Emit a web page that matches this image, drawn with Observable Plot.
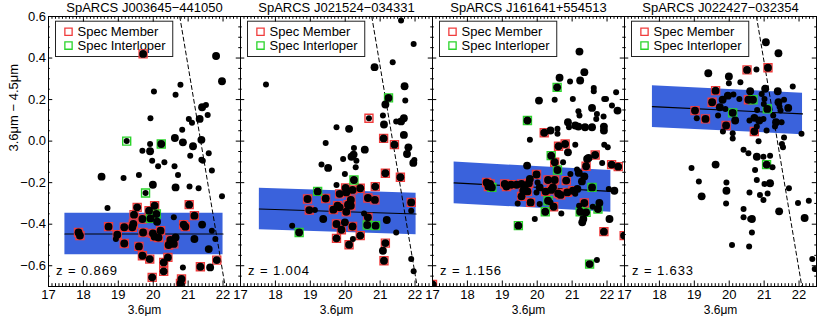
<!DOCTYPE html>
<html><head><meta charset="utf-8">
<script src="https://cdn.jsdelivr.net/npm/d3@7"></script>
<script src="https://cdn.jsdelivr.net/npm/@observablehq/plot@0.6"></script>
<style>body{margin:0;background:#fff;} #chart{width:830px;height:316px;}</style>
</head><body><div id="chart"></div>
<script>
// ---------- data ----------
const clusters = ["SpARCS J003645−441050", "SpARCS J021524−034331", "SpARCS J161641+554513", "SpARCS J022427−032354"];
const redshifts = ["0.869", "1.004", "1.156", "1.633"];
// red-sequence fit band
const bandStart = [17.47, 17.54, 17.62, 17.80];
const bandEnd   = [22.00, 22.03, 22.11, 22.10];
const fitStart  = [-0.447, -0.327, -0.201, 0.166];
const fitEnd    = [-0.447, -0.351, -0.242, 0.131];
const bandHalfWidth = [0.1, 0.1, 0.1, 0.1];
// 4.5um limit: colour = limitC - mag (null = outside plot)
const limitC = [21.36, 21.36, null, 21.38];
// tick labels
const xMajorTicks = [17, 18, 19, 20, 21, 22];
const yMajorTicks = [-0.6, -0.4, -0.2, 0.0, 0.2, 0.4, 0.6];
const legendLabels = ["Spec Member", "Spec Interloper"];

// points: [3.6um mag, colour, big(1)/small(0), spec: 0 none, 1 member, 2 interloper]
const pointsJ0036 = [
[19.71,0.42,1,1],[21.80,0.41,1,0],[21.97,0.288,1,0],[20.02,0.239,0,0],[20.78,0.271,0,0],[20.64,0.223,0,0],
[21.40,0.163,1,0],[21.51,0.174,0,0],[19.92,0.11,0,0],[21.02,0.107,0,0],[21.11,0.088,0,0],[21.33,0.107,1,0],
[21.56,0.126,0,0],[20.83,0.055,0,0],[19.24,0.0,0,2],[20.62,0.015,1,0],[20.85,-0.006,1,0],[21.38,0.006,1,0],
[21.14,-0.025,1,0],[20.23,-0.014,1,2],[19.91,-0.049,1,0],[19.69,-0.046,0,0],[19.91,-0.014,0,0],[21.06,-0.07,0,0],
[21.59,-0.059,0,0],[21.38,-0.09,0,0],[21.42,-0.094,0,0],[19.97,-0.094,0,0],[20.14,-0.121,0,0],[20.32,-0.102,0,0],
[20.61,-0.121,0,0],[21.68,-0.142,0,0],[18.52,-0.171,1,0],[19.15,-0.177,0,0],[19.59,-0.163,0,0],[20.71,-0.163,0,0],
[19.99,-0.21,1,0],[20.64,-0.223,1,0],[21.04,-0.218,0,0],[21.30,-0.227,0,0],[21.97,-0.266,0,0],[19.78,-0.25,0,2],
[18.69,-0.322,0,0],[19.54,-0.319,1,1],[20.04,-0.311,1,1],[21.03,-0.306,1,1],[21.18,-0.359,1,1],[19.45,-0.354,1,1],
[19.88,-0.335,1,1],[20.09,-0.351,1,2],[19.92,-0.372,1,2],[19.69,-0.375,1,1],[19.43,-0.399,1,1],[19.40,-0.415,1,1],
[19.17,-0.415,1,1],[18.72,-0.412,1,1],[20.11,-0.388,1,0],[20.59,-0.367,0,0],[20.87,-0.402,1,1],[20.92,-0.412,1,1],
[21.40,-0.402,1,0],[17.86,-0.44,1,1],[17.90,-0.455,1,1],[18.97,-0.451,1,1],[19.17,-0.493,1,1],[18.93,-0.471,0,0],
[19.71,-0.44,1,1],[19.99,-0.444,1,1],[20.04,-0.46,1,1],[20.15,-0.464,1,1],[20.21,-0.431,1,1],[20.49,-0.476,1,1],
[20.44,-0.50,1,1],[20.59,-0.495,1,1],[20.64,-0.464,1,0],[21.18,-0.471,1,0],[21.78,-0.471,0,0],[21.68,-0.431,0,0],
[21.59,-0.52,1,0],[19.59,-0.507,1,1],[19.69,-0.552,1,1],[19.90,-0.568,1,1],[20.42,-0.56,1,1],[20.30,-0.584,1,1],
[20.30,-0.627,1,1],[21.35,-0.605,1,1],[21.63,-0.608,1,0],[21.82,-0.573,1,1],[20.85,-0.608,0,0],[19.97,-0.656,1,1],
[20.81,-0.664,1,1],[20.78,-0.685,1,1]
];
const pointsJ0215 = [
[21.60,0.581,0,0],[21.96,0.468,0,0],[21.36,0.38,0,0],[20.84,0.356,1,0],[17.73,0.272,0,0],[21.70,0.264,1,0],
[21.24,0.208,1,2],[21.72,0.195,0,0],[21.15,0.176,1,0],[20.68,0.11,0,1],[21.08,0.123,0,0],[21.68,0.11,1,0],
[21.60,0.095,1,0],[21.46,0.095,0,0],[21.11,0.08,1,0],[19.75,0.067,0,0],[20.11,0.059,1,0],[21.68,0.03,1,0],
[21.10,0.013,1,1],[21.41,-0.017,1,1],[19.44,-0.009,0,0],[21.81,-0.03,1,0],[20.56,-0.041,1,0],[20.25,-0.033,0,0],
[20.24,-0.065,1,0],[20.18,-0.075,1,0],[19.94,-0.086,0,0],[21.98,-0.091,0,0],[21.77,-0.062,1,0],[21.95,-0.105,1,0],
[19.32,-0.113,0,0],[19.51,-0.129,1,0],[20.32,-0.094,0,0],[20.30,-0.126,0,0],[19.99,-0.158,0,0],[21.15,-0.155,1,1],
[21.58,-0.174,1,1],[20.25,-0.187,1,2],[19.75,-0.211,0,0],[20.01,-0.226,1,1],[20.21,-0.235,1,1],[20.43,-0.227,1,1],
[20.86,-0.219,1,1],[19.21,-0.242,1,2],[19.84,-0.254,1,1],[20.03,-0.247,1,1],[18.92,-0.279,1,1],[19.44,-0.276,1,1],
[20.16,-0.283,1,1],[20.65,-0.274,1,1],[20.85,-0.283,1,1],[21.89,-0.295,1,1],[19.78,-0.311,1,1],[19.84,-0.319,1,1],
[20.08,-0.306,1,1],[20.16,-0.311,1,1],[18.97,-0.332,1,1],[19.13,-0.332,0,0],[19.66,-0.33,1,1],[20.03,-0.34,1,1],
[20.54,-0.348,0,0],[21.89,-0.335,0,0],[19.37,-0.375,1,0],[20.65,-0.367,1,1],[21.19,-0.38,1,0],[19.75,-0.399,1,1],
[19.99,-0.391,1,0],[20.21,-0.411,1,1],[20.63,-0.404,1,2],[20.87,-0.407,1,2],[18.48,-0.407,0,0],[18.68,-0.44,1,2],
[19.89,-0.427,1,1],[21.46,-0.44,0,0],[20.43,-0.455,1,1],[20.22,-0.471,0,0],[19.75,-0.468,1,1],[21.15,-0.491,1,1],
[20.11,-0.499,1,1],[21.08,-0.528,1,0],[21.11,-0.576,1,1],[21.89,-0.568,0,0],[21.96,-0.627,0,0]
];
const pointsJ1616 = [
[21.21,0.431,1,0],[21.35,0.332,1,0],[20.64,0.305,1,0],[20.94,0.287,0,0],[21.23,0.292,1,0],[20.57,0.259,1,2],
[21.62,0.256,0,0],[21.62,0.24,0,0],[22.26,0.235,0,0],[20.05,0.195,1,0],[20.50,0.199,0,0],[21.02,0.203,0,0],
[21.92,0.203,0,0],[21.97,0.203,0,0],[21.57,0.16,1,0],[22.14,0.171,0,0],[22.30,0.147,1,0],[21.18,0.144,0,0],
[21.21,0.123,0,0],[21.71,0.131,0,0],[21.69,0.107,0,0],[21.90,0.118,0,0],[19.72,0.099,1,2],[20.88,0.091,1,0],
[21.09,0.075,1,0],[21.18,0.07,1,0],[21.37,0.067,1,0],[21.57,0.067,1,0],[20.91,0.067,0,0],[21.91,0.07,1,0],
[21.91,0.051,1,0],[20.38,0.051,1,0],[20.58,0.059,0,0],[20.58,0.035,0,0],[20.20,0.04,1,1],[19.79,0.006,0,0],
[20.80,-0.014,1,1],[20.61,-0.025,1,1],[21.09,-0.018,0,0],[21.92,-0.017,0,0],[22.02,-0.03,0,0],[20.40,-0.07,1,2],
[21.66,-0.067,1,1],[21.47,-0.081,1,0],[20.88,-0.054,1,0],[20.50,-0.102,1,1],[21.43,-0.086,1,0],[20.74,-0.102,0,0],
[21.86,-0.105,0,0],[22.13,-0.113,1,1],[22.32,-0.123,1,1],[21.40,-0.121,1,1],[19.71,-0.118,1,0],[20.58,-0.139,1,2],
[21.14,-0.137,0,0],[21.19,-0.153,1,0],[20.95,-0.158,0,0],[21.35,-0.17,1,0],[19.98,-0.161,1,1],[19.79,-0.182,1,0],
[20.50,-0.187,1,1],[20.83,-0.19,1,1],[20.31,-0.187,1,1],[20.01,-0.199,0,0],[21.28,-0.194,1,0],[18.55,-0.199,1,1],
[18.65,-0.206,1,1],[18.60,-0.219,1,1],[18.70,-0.223,1,2],[19.07,-0.206,1,1],[19.25,-0.21,1,1],[19.41,-0.21,1,0],
[19.12,-0.219,1,1],[19.55,-0.206,1,1],[19.76,-0.203,1,1],[19.64,-0.223,1,1],[19.60,-0.239,1,1],[19.72,-0.242,1,1],
[19.55,-0.266,1,1],[19.44,-0.3,0,0],[19.81,-0.295,1,1],[20.07,-0.223,1,0],[19.98,-0.247,0,0],[20.24,-0.243,1,1],
[20.40,-0.235,1,1],[20.45,-0.223,1,1],[20.60,-0.252,1,1],[20.67,-0.259,1,1],[20.86,-0.247,1,1],[21.02,-0.239,1,1],
[21.15,-0.23,1,0],[21.57,-0.223,1,2],[22.05,-0.23,0,0],[22.21,-0.239,1,0],[21.09,-0.254,0,0],[20.31,-0.287,1,2],
[20.38,-0.295,0,0],[20.07,-0.303,0,0],[20.47,-0.316,1,1],[21.35,-0.298,1,1],[21.20,-0.311,0,0],[21.59,-0.316,0,0],
[21.78,-0.298,1,0],[21.74,-0.327,1,2],[20.23,-0.34,1,2],[20.69,-0.348,0,0],[21.23,-0.34,1,2],[21.40,-0.343,1,2],
[21.32,-0.375,1,0],[21.29,-0.391,1,0],[22.07,-0.375,1,0],[19.93,-0.375,0,0],[19.46,-0.407,1,2],[21.91,-0.436,1,1],
[22.49,-0.455,1,1],[21.71,-0.573,0,0],[21.50,-0.592,1,2],[17.00,-0.69,1,1]
];
const pointsJ0224 = [
[21.05,0.476,1,0],[21.41,0.423,1,0],[20.51,0.343,1,1],[20.78,0.345,0,0],[21.11,0.353,1,1],[19.40,0.327,1,0],
[19.99,0.311,1,0],[20.32,0.283,0,0],[19.99,0.279,0,0],[21.82,0.263,0,0],[19.61,0.243,1,1],[20.60,0.24,1,0],
[21.03,0.252,1,0],[21.39,0.24,1,0],[20.12,0.224,0,0],[19.96,0.219,1,0],[20.93,0.227,0,0],[19.81,0.199,1,0],
[20.55,0.199,1,1],[20.68,0.199,1,2],[20.29,0.203,0,0],[21.01,0.203,0,0],[21.41,0.187,1,0],[21.57,0.199,0,0],
[19.51,0.187,1,1],[20.99,0.179,0,0],[21.44,0.166,0,0],[21.69,0.16,1,0],[19.73,0.163,1,0],[19.89,0.155,0,0],
[19.02,0.147,1,1],[20.10,0.136,1,2],[21.09,0.155,1,2],[20.80,0.15,0,0],[21.47,0.147,0,0],[21.26,0.123,0,0],
[19.07,0.11,0,0],[19.32,0.107,1,1],[19.68,0.123,0,0],[20.17,0.099,1,0],[20.58,0.099,0,0],[20.72,0.112,1,0],
[20.98,0.107,0,0],[20.86,0.099,1,0],[21.34,0.091,1,0],[21.50,0.091,0,0],[19.91,0.075,1,1],[20.79,0.07,0,0],
[21.31,0.07,0,0],[21.07,0.051,0,0],[19.82,0.046,0,0],[20.10,0.038,0,0],[20.72,0.046,1,1],[22.07,0.035,0,0],
[21.57,0.018,0,0],[20.10,0.013,0,0],[20.84,-0.001,0,0],[21.51,-0.014,0,0],[21.54,-0.03,0,0],[20.41,-0.041,0,0],
[20.55,-0.059,0,0],[20.79,-0.075,1,0],[20.98,-0.075,0,0],[21.17,-0.07,0,0],[21.07,-0.113,1,2],[21.24,-0.126,0,0],
[18.92,-0.129,0,0],[19.61,-0.113,1,0],[20.74,-0.139,0,0],[20.79,-0.187,0,0],[19.13,-0.194,0,0],[19.92,-0.199,0,0],
[21.01,-0.206,0,0],[21.17,-0.203,1,0],[21.71,-0.227,0,0],[19.92,-0.239,1,0],[20.58,-0.247,0,0],[21.10,-0.252,0,0],
[20.88,-0.259,0,0],[19.21,-0.266,1,0],[20.98,-0.283,0,0],[19.91,-0.3,0,0],[21.97,-0.298,0,0],[22.28,-0.287,0,0],
[20.41,-0.327,0,0],[21.43,-0.338,1,0],[20.41,-0.367,0,0],[20.65,-0.375,1,0],[20.60,-0.375,0,0],[22.16,-0.37,1,0],
[20.65,-0.44,0,0],[20.08,-0.50,0,0],[20.57,-0.507,0,0],[22.38,-0.568,0,0],[22.45,-0.616,0,0]
];

// ---------- tables ----------
const pointSets = [pointsJ0036, pointsJ0215, pointsJ1616, pointsJ0224];
const points = pointSets.flatMap((arr, i) => arr.map(([mag, col, big, spec]) => ({cluster: clusters[i], mag, col, big, spec})));
const bandRows = clusters.flatMap((c, i) => [
  {cluster: c, mag: bandStart[i], fit: fitStart[i], lo: fitStart[i] - bandHalfWidth[i], hi: fitStart[i] + bandHalfWidth[i]},
  {cluster: c, mag: bandEnd[i], fit: fitEnd[i], lo: fitEnd[i] - bandHalfWidth[i], hi: fitEnd[i] + bandHalfWidth[i]}
]);
const yTop = 0.6, yBottom = -0.7;
const limitRows = clusters.flatMap((c, i) => limitC[i] == null ? [] : [
  {cluster: c, mag: limitC[i] - yTop, col: yTop},
  {cluster: c, mag: limitC[i] - yBottom, col: yBottom}
]);
const panelInfo = clusters.map((c, i) => ({cluster: c, z: redshifts[i]}));

const xMinorTicks = d3.range(171, 225).filter(d => d % 10 !== 0).map(d => d / 10);
const yMinorTicks = d3.range(-13, 12).filter(d => d % 4 !== 0).map(d => d * 0.05);

// ---------- layout / style ----------
const W = 830, H = 316, ML = 46, MR = 13, MT = 16, MB = 30;
const FW = (W - ML - MR) / 4, FH = H - MT - MB;
const RED = "#f03c3c", GREEN = "#2bd42b", BLUE = "#3a62dc";
const FS = 13;

const tickMarks = [
  Plot.tickX(xMajorTicks, {x: d => d, insetTop: FH - 5.5, stroke: "black"}),
  Plot.tickX(xMajorTicks, {x: d => d, insetBottom: FH - 5.5, stroke: "black"}),
  Plot.tickX(xMinorTicks, {x: d => d, insetTop: FH - 2.8, stroke: "black"}),
  Plot.tickX(xMinorTicks, {x: d => d, insetBottom: FH - 2.8, stroke: "black"}),
  Plot.tickY(yMajorTicks, {y: d => d, insetRight: FW - 5, stroke: "black"}),
  Plot.tickY(yMajorTicks, {y: d => d, insetLeft: FW - 5, stroke: "black"}),
  Plot.tickY(yMinorTicks, {y: d => d, insetRight: FW - 2.5, stroke: "black"}),
  Plot.tickY(yMinorTicks, {y: d => d, insetLeft: FW - 2.5, stroke: "black"})
];

const legendMarks = legendLabels.flatMap((lab, i) => [
  Plot.dot(clusters, {fx: d => d, x: null, y: null, frameAnchor: "top-left", dx: 20, dy: 15.3 + 13.8 * i,
    symbol: "square", r: 4.1, stroke: i === 0 ? RED : GREEN, strokeWidth: 1.3, fill: "white"}),
  Plot.text(clusters, {fx: d => d, x: null, y: null, frameAnchor: "top-left", dx: 29, dy: 15.8 + 13.8 * i,
    text: () => lab, textAnchor: "start", lineAnchor: "middle", fontSize: FS, fill: "black"})
]);

const chart = Plot.plot({
  width: W, height: H,
  marginLeft: ML, marginRight: MR, marginTop: MT, marginBottom: MB,
  style: {fontFamily: "'Liberation Sans', Arial, Helvetica, sans-serif", fontSize: FS + "px", background: "white", color: "black"},
  fx: {domain: clusters, padding: 0, axis: null},
  x: {domain: [17, 22.5]},
  y: {domain: [yBottom, yTop]},
  marks: [
    Plot.areaY(bandRows, {fx: "cluster", x: "mag", y1: "lo", y2: "hi", fill: BLUE}),
    Plot.line(bandRows, {fx: "cluster", x: "mag", y: "fit", stroke: "black", strokeWidth: 1.1}),
    Plot.line(limitRows, {fx: "cluster", x: "mag", y: "col", z: "cluster", stroke: "black", strokeWidth: 1, strokeDasharray: "4,3", clip: true}),
    Plot.frame({fill: "white", stroke: "#222", strokeWidth: 1, insetLeft: 7, insetTop: 4.7, insetRight: FW - 125, insetBottom: FH - 40}),
    ...legendMarks,
    Plot.dot(points.filter(d => d.spec === 1), {fx: "cluster", x: "mag", y: "col", symbol: "square", r: 4.5, stroke: RED, strokeWidth: 1.4, fill: "none", clip: true}),
    Plot.dot(points.filter(d => d.spec === 2), {fx: "cluster", x: "mag", y: "col", symbol: "square", r: 4.5, stroke: GREEN, strokeWidth: 1.4, fill: "none", clip: true}),
    Plot.dot(points, {fx: "cluster", x: "mag", y: "col", r: d => d.big ? 3.1 : 1.8, fill: "black", stroke: null, clip: true}),
    Plot.frame({stroke: "black", strokeWidth: 1}),
    ...tickMarks,
    Plot.axisX({ticks: xMajorTicks, tickSize: 0, tickPadding: 3.5, tickFormat: d => String(d), label: null, fontSize: FS}),
    Plot.axisY({ticks: yMajorTicks, tickSize: 0, tickPadding: 2.5, tickFormat: d3.format(".1f"), label: null, fontSize: FS}),
    Plot.text(panelInfo, {fx: "cluster", x: null, y: null, frameAnchor: "top", dy: -9, lineAnchor: "middle", text: d => d.cluster, fontSize: FS}),
    Plot.text(panelInfo, {fx: "cluster", x: null, y: null, frameAnchor: "bottom-left", dx: 7.5, dy: -15.3, textAnchor: "start", lineAnchor: "middle", text: d => "z = " + d.z, fontSize: FS}),
    Plot.text(panelInfo, {fx: "cluster", x: null, y: null, frameAnchor: "bottom", dy: 23.4, lineAnchor: "middle", text: () => "3.6μm", fontSize: 12}),
    Plot.text([panelInfo[0]], {fx: "cluster", x: null, y: null, frameAnchor: "left", dx: -35, rotate: -90, lineAnchor: "middle", text: () => "3.6μm − 4.5μm", fontSize: FS})
  ]
});
// IDL-style wide spacing for the redshift labels
d3.select(chart).selectAll("text").filter(function() { return this.textContent.startsWith("z = "); }).attr("letter-spacing", "0.9px");
document.getElementById("chart").append(chart);
</script>
</body></html>
